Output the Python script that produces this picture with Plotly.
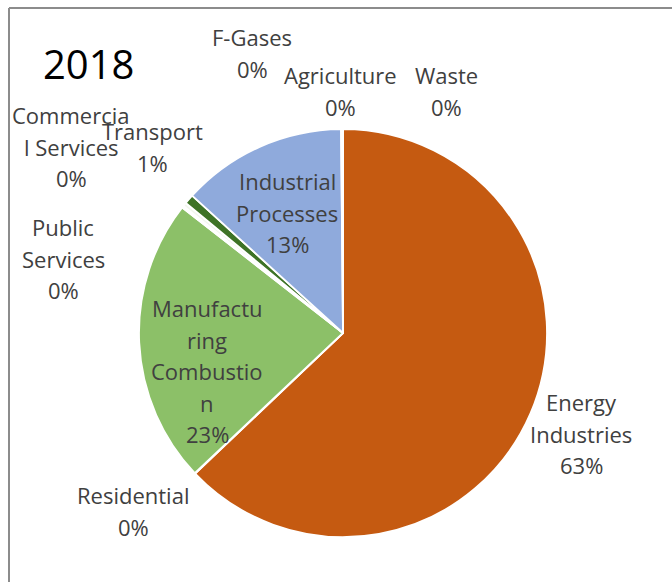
import plotly.graph_objects as go

# 2018 emissions share by sector (percent)
sectors = [
    "Energy Industries", "Residential", "Manufacturing Combustion",
    "Public Services", "Commercial Services", "Transport",
    "Industrial Processes", "F-Gases", "Agriculture", "Waste",
]
shares = [62.9, 0.05, 22.6, 0.15, 0.3, 0.75, 13.1, 0.1, 0.02, 0.03]
slice_colors = [
    "#C55A11", "#7F7F7F", "#8CC068", "#8B5E3C", "#F2F7EE",
    "#3E7326", "#8FAADC", "#BDD7EE", "#A9D18E", "#F4B183",
]

# Wrapped label text, as the data labels break it
wrapped_names = [
    ["Energy", "Industries"], ["Residential"],
    ["Manufactu", "ring", "Combustio", "n"], ["Public", "Services"],
    ["Commercia", "l Services"], ["Transport"], ["Industrial", "Processes"],
    ["F-Gases"], ["Agriculture"], ["Waste"],
]

W, H = 672, 582
CX, CY, R = 343, 333, 204

# Label anchors in pixels: centre x, centre y of the first line
label_anchor = {
    "Energy Industries": (581, 402),
    "Residential": (133, 495),
    "Manufacturing Combustion": (207, 308),
    "Public Services": (63, 227),
    "Commercial Services": (71, 115),
    "Transport": (152, 131),
    "Industrial Processes": (287, 181),
    "F-Gases": (252, 37),
    "Agriculture": (340, 75),
    "Waste": (446, 75),
}
LINE_STEP = 31.5

fig = go.Figure(
    go.Pie(
        labels=sectors,
        values=shares,
        sort=False,
        direction="clockwise",
        rotation=0,
        marker=dict(colors=slice_colors, line=dict(color="white", width=1.8)),
        textinfo="none",
        hoverinfo="label+percent",
        showlegend=False,
        domain=dict(
            x=[(CX - R) / W, (CX + R) / W],
            y=[(H - CY - R) / H, (H - CY + R) / H],
        ),
    )
)

annotations = []
for name, value, lines in zip(sectors, shares, wrapped_names):
    x0, y0 = label_anchor[name]
    for i, line in enumerate(lines + [f"{round(value)}%"]):
        annotations.append(dict(
            text=line, x=x0 / W, y=1 - (y0 + i * LINE_STEP) / H,
            xref="paper", yref="paper", xanchor="center", yanchor="middle",
            showarrow=False,
            font=dict(family="Open Sans", size=22, color="#404040"),
        ))

annotations.append(dict(
    text="2018", x=88 / W, y=1 - 63 / H, xref="paper", yref="paper",
    xanchor="center", yanchor="middle", showarrow=False,
    font=dict(family="Open Sans", size=40, color="#000000"),
))

# Chart-area frame (top and left edges)
frame = [
    dict(type="line", xref="paper", yref="paper",
         x0=9 / W, x1=1.01, y0=1 - 8 / H, y1=1 - 8 / H,
         line=dict(color="#8C8C8C", width=2)),
    dict(type="line", xref="paper", yref="paper",
         x0=9 / W, x1=9 / W, y0=1 - 8 / H, y1=-0.01,
         line=dict(color="#8C8C8C", width=2)),
]

fig.update_layout(
    width=W, height=H,
    margin=dict(l=0, r=0, t=0, b=0),
    paper_bgcolor="white",
    plot_bgcolor="white",
    annotations=annotations,
    shapes=frame,
)

fig.write_html("out.html")
